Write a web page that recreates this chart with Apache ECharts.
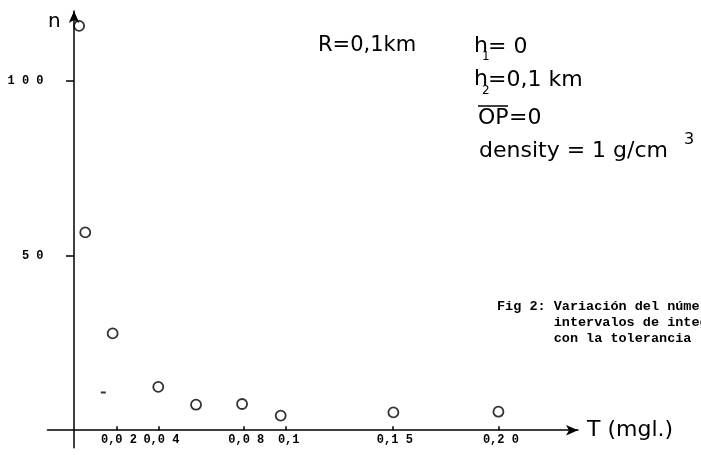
<!DOCTYPE html>
<html>
<head>
<meta charset="utf-8">
<script src="https://cdn.jsdelivr.net/npm/echarts@6/dist/echarts.min.js"></script>
<style>
html,body{margin:0;padding:0;background:#fff;}
#chart{width:701px;height:455px;}
</style>
</head>
<body>
<div id="chart"></div>
<script>
// Data
const tValues = [0.0024, 0.0053, 0.0182, 0.0397, 0.0575, 0.0792, 0.0974, 0.1505, 0.2];
const nValues = [115.7, 56.6, 27.7, 12.4, 7.3, 7.5, 4.2, 5.1, 5.3];
const strayT = [0.0138];
const strayN = [10.8];
const xTicks = [0.02, 0.04, 0.08, 0.1, 0.15, 0.2];
const xTickLabels = ['0,02', '0,04', '0,08', '0,1', '0,15', '0,20'];
const yTicks = [50, 100];
const yTickLabels = ['50', '100'];

const chart = echarts.init(document.getElementById('chart'), null, {renderer: 'canvas'});

function lookup(v, ticks, labels) {
  for (let i = 0; i < ticks.length; i++) {
    if (Math.abs(v - ticks[i]) < 1e-9) return labels[i];
  }
  return '';
}
function spacedX(s) { return s.length === 4 ? s.slice(0, 3) + ' ' + s.slice(3) : s; }
function spacedY(s) { return s.split('').join(' '); }

const txt = (text, x, y, size, extra) => ({
  type: 'text', x: x, y: y,
  style: Object.assign({text: text, fill: '#000', font: size + 'px "DejaVu Sans"', verticalAlign: 'middle', align: 'left'}, extra || {})
});

chart.setOption({
  animation: false,
  backgroundColor: '#fff',
  grid: {left: 47.5, right: 123, top: 10.9, bottom: 7.3, containLabel: false, outerBoundsMode: 'none'},
  xAxis: {
    type: 'value', min: -0.0125, max: 0.2375,
    splitLine: {show: false},
    axisLine: {onZero: true, symbol: ['none', 'arrow'], symbolSize: [8, 12], lineStyle: {color: '#000', width: 1.5}},
    axisTick: {show: true, customValues: xTicks, inside: true, length: 4, lineStyle: {color: '#000', width: 1.5}},
    axisLabel: {
      customValues: xTicks, margin: -14, color: '#000',
      fontFamily: 'Liberation Mono', fontWeight: 'bold', fontSize: 12, padding: [0, 0, 0, 5],
      formatter: v => spacedX(lookup(v, xTicks, xTickLabels))
    },
    name: 'T (mgl.)', nameLocation: 'end', nameGap: 9,
    nameTextStyle: {color: '#000', fontFamily: 'DejaVu Sans', fontSize: 22, verticalAlign: 'middle', align: 'left'}
  },
  yAxis: {
    type: 'value', min: -5, max: 120,
    splitLine: {show: false},
    axisLine: {onZero: true, symbol: ['none', 'arrow'], symbolSize: [8, 12], lineStyle: {color: '#000', width: 1.5}},
    axisTick: {show: true, customValues: yTicks, length: 8, lineStyle: {color: '#000', width: 1.5}},
    axisLabel: {
      customValues: yTicks, margin: 4, color: '#000',
      fontFamily: 'Liberation Mono', fontWeight: 'bold', fontSize: 12,
      formatter: v => spacedY(lookup(v, yTicks, yTickLabels))
    }
  },
  series: [
    {
      type: 'scatter', name: 'n',
      data: tValues.map((t, i) => [t, nValues[i]]),
      symbol: 'circle', symbolSize: 10,
      itemStyle: {color: 'rgba(0,0,0,0)', borderColor: '#000', borderWidth: 1.8},
      emphasis: {disabled: true}
    },
    {
      type: 'scatter', name: 'mark',
      data: strayT.map((t, i) => [t, strayN[i]]),
      symbol: 'rect', symbolSize: [5, 2],
      itemStyle: {color: '#000'},
      emphasis: {disabled: true}
    }
  ],
  graphic: [
    txt('n', 48, 22, 20),
    txt('R=0,1km', 318, 46, 21),
    txt('h', 474, 46, 22),
    txt('1', 482, 57, 12),
    txt('= 0', 488, 47, 22),
    txt('h', 474, 79, 22),
    txt('2', 482, 91, 12),
    txt('=0,1 km', 488, 80, 22),
    txt('OP', 478, 118, 22),
    {type: 'line', shape: {x1: 478, y1: 106, x2: 508, y2: 106}, style: {stroke: '#000', lineWidth: 1.5}},
    txt('=0', 509, 118, 22),
    txt('density = 1 g/cm', 479, 151, 22),
    txt('3', 684, 140, 16),
    {
      type: 'text', x: 497, y: 323,
      style: {
        text: 'Fig 2: Variación del número de\n       intervalos de integración\n       con la tolerancia',
        fill: '#000', font: 'bold 13.5px "Liberation Mono"', lineHeight: 16, verticalAlign: 'middle', align: 'left'
      }
    }
  ]
});
</script>
</body>
</html>
